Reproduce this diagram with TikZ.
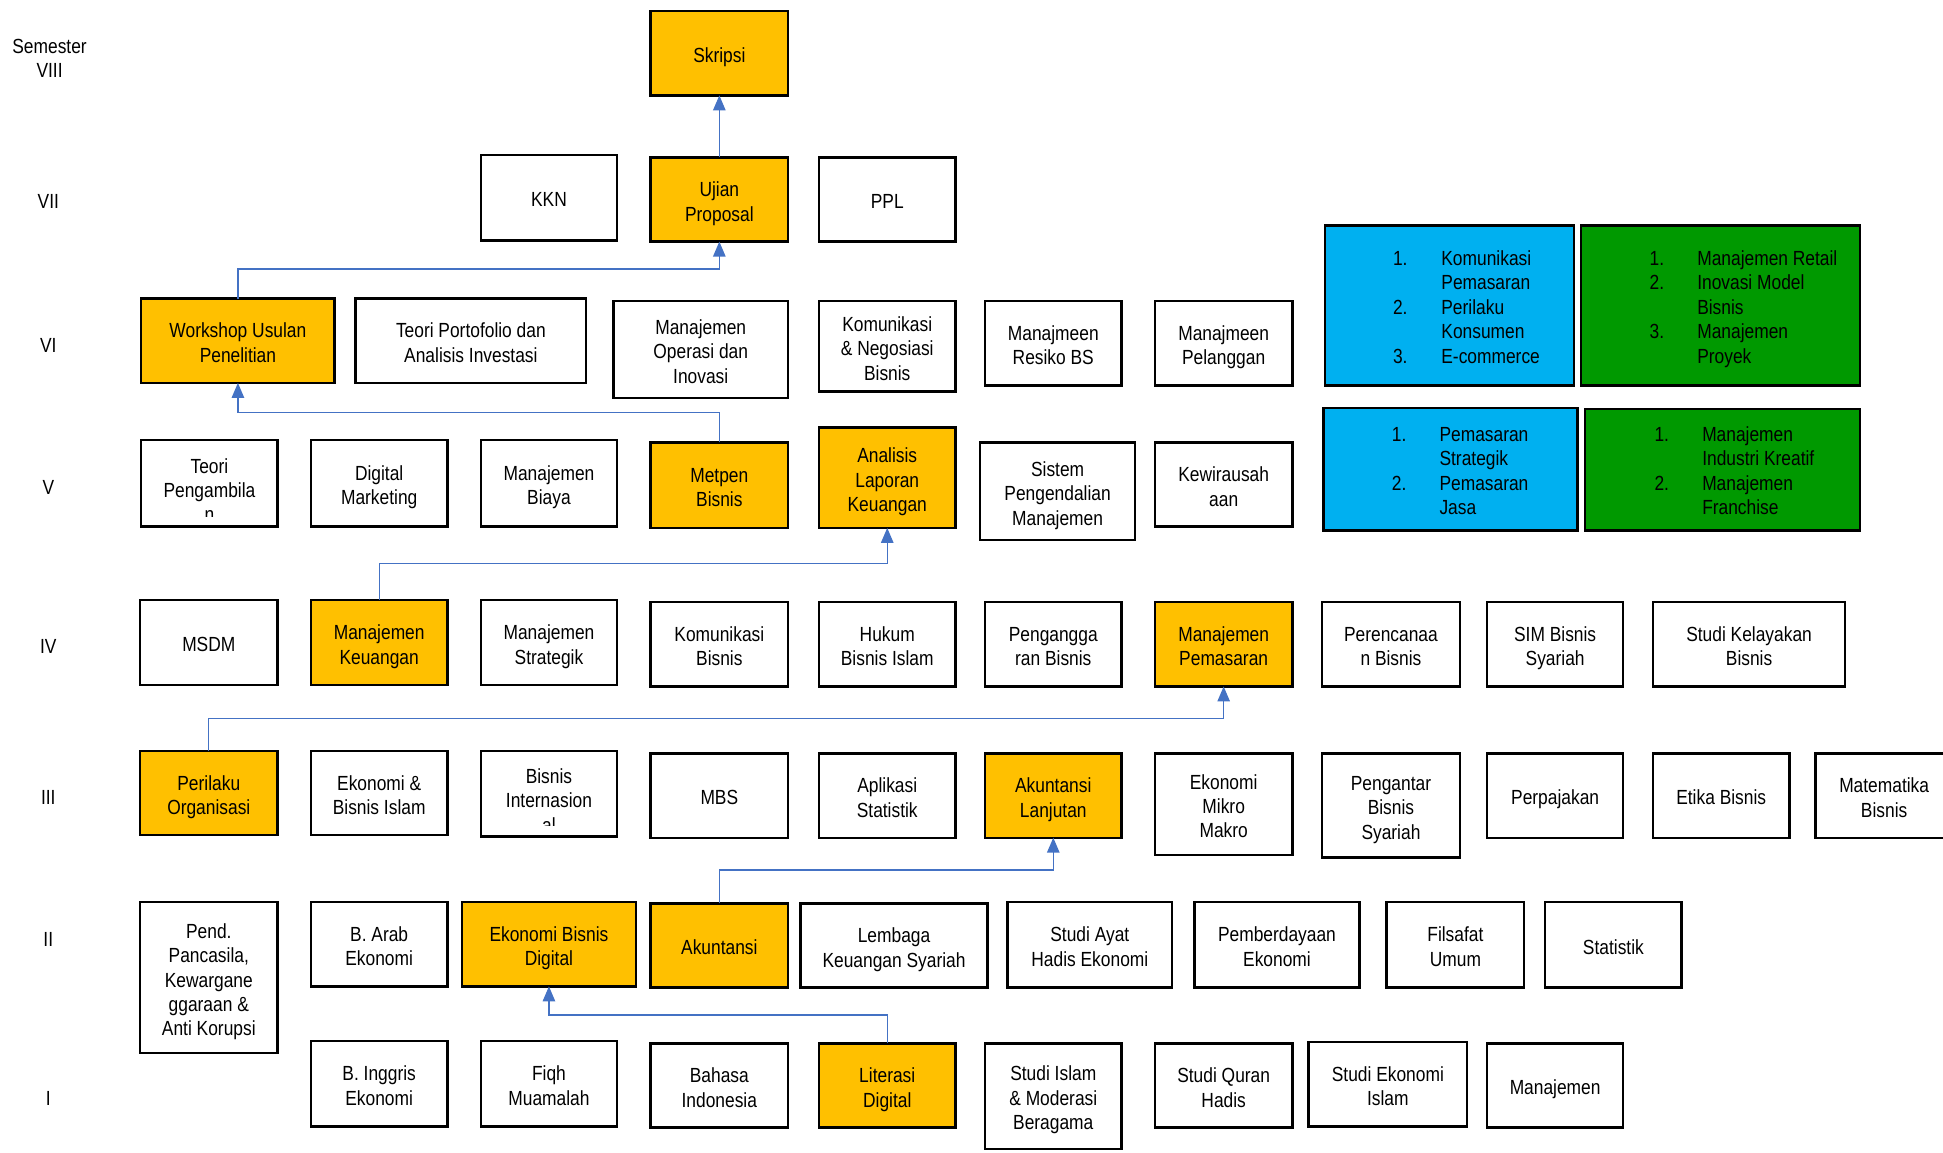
\documentclass[tikz,border=0pt]{standalone}
\usepackage{fontspec}
\setmainfont{Liberation Sans}[FakeStretch=0.85]
\usetikzlibrary{arrows.meta}
\definecolor{gold}{HTML}{FFC000}
\definecolor{sky}{HTML}{00B0F0}
\definecolor{leaf}{HTML}{009900}
\definecolor{connblue}{HTML}{4472C4}
\newcommand\course[7]{%
  \node[#2, minimum width={#5pt-#3pt}, minimum height={#6pt-#4pt}] (#1) at ({(#3+#5)/2},{(#4+#6)/2}) {\rule{0pt}{19pt}#7\rule[-4pt]{0pt}{4pt}};}
\tikzset{
  plainbox/.style={draw=black, line width=1.9pt, fill=white, inner sep=0pt, outer sep=0pt, align=center},
  goldbox/.style={plainbox, fill=gold},
  skybox/.style={plainbox, fill=sky},
  leafbox/.style={plainbox, fill=leaf},
  sem/.style={inner sep=0pt, align=center},
  txt/.style={inner sep=0pt, align=center},
  listtxt/.style={inner sep=0pt, anchor=north west},
  link/.style={draw=connblue, line width=1pt, -{Triangle[length=12pt,width=10pt]}},
}
\begin{document}
\begin{tikzpicture}[x=1pt, y=-1pt, every node/.append style={font=\fontsize{16.5}{19.75}\selectfont}]
\useasboundingbox (0,0) rectangle (1568,930);

% semester labels
\node[sem] (s8) at (40,47) {Semester\\VIII};
\node[sem] (s7) at (39,162.5) {VII};
\node[sem] (s6) at (39,278.5) {VI};
\node[sem] (s5) at (39,393.5) {V};
\node[sem] (s4) at (39,521.5) {IV};
\node[sem] (s3) at (39,643.5) {III};
\node[sem] (s2) at (39,758.5) {II};
\node[sem] (s1) at (39,886.5) {I};

% VIII
\course{skripsi}{goldbox}{525}{9}{636}{77}{Skripsi}
% VII
\course{kkn}{plainbox}{388}{125}{498}{194}{KKN}
\course{ujian}{goldbox}{525}{127}{636}{195}{Ujian\\Proposal}
\course{ppl}{plainbox}{661}{127}{771}{195}{PPL}
% VI
\course{workshop}{goldbox}{114}{241}{270}{309}{Workshop Usulan\\Penelitian}
\course{portofolio}{plainbox}{287}{241}{473}{309}{Teori Portofolio dan\\Analisis Investasi}
\course{operasi}{plainbox}{495}{243}{636}{321}{Manajemen\\Operasi dan\\Inovasi}
\course{negosiasi}{plainbox}{661}{243}{771}{316}{Komunikasi\\\& Negosiasi\\Bisnis}
\course{resiko}{plainbox}{795}{243}{905}{311}{Manajmeen\\Resiko BS}
\course{pelanggan}{plainbox}{932}{243}{1043}{311}{Manajmeen\\Pelanggan}
\course{konsA}{skybox}{1069}{182}{1270}{311}{}
\course{konsB}{leafbox}{1276}{182}{1501}{311}{}
% V
\course{pengambilan}{plainbox}{114}{355}{224}{425}{}
\course{digmark}{plainbox}{251}{355}{361}{425}{Digital\\Marketing}
\course{biaya}{plainbox}{388}{355}{498}{425}{Manajemen\\Biaya}
\course{metpen}{goldbox}{525}{357}{636}{426}{Metpen\\Bisnis}
\course{analisis}{goldbox}{661}{345}{771}{426}{Analisis\\Laporan\\Keuangan}
\course{spm}{plainbox}{791}{357}{916}{436}{Sistem\\Pengendalian\\Manajemen}
\course{kewira}{plainbox}{932}{357}{1043}{425}{Kewirausah\\aan}
\course{konsC}{skybox}{1068}{329}{1273}{428}{}
\course{konsD}{leafbox}{1279}{330}{1501}{428}{}
% IV
\course{msdm}{plainbox}{113}{484}{224}{553}{MSDM}
\course{mkeu}{goldbox}{251}{484}{361}{553}{Manajemen\\Keuangan}
\course{mstrat}{plainbox}{388}{484}{498}{553}{Manajemen\\Strategik}
\course{kombis}{plainbox}{525}{486}{636}{554}{Komunikasi\\Bisnis}
\course{hukum}{plainbox}{661}{486}{771}{554}{Hukum\\Bisnis Islam}
\course{anggaran}{plainbox}{795}{486}{905}{554}{Pengangga\\ran Bisnis}
\course{mpemasaran}{goldbox}{932}{486}{1043}{554}{Manajemen\\Pemasaran}
\course{perencanaan}{plainbox}{1067}{486}{1178}{554}{Perencanaa\\n Bisnis}
\course{sim}{plainbox}{1200}{486}{1310}{554}{SIM Bisnis\\Syariah}
\course{kelayakan}{plainbox}{1334}{486}{1489}{554}{Studi Kelayakan\\Bisnis}
% III
\course{perilaku}{goldbox}{113}{606}{224}{674}{Perilaku\\Organisasi}
\course{ekbisislam}{plainbox}{251}{606}{361}{674}{Ekonomi \&\\Bisnis Islam}
\course{bisint}{plainbox}{388}{606}{498}{675}{}
\course{mbs}{plainbox}{525}{608}{636}{676}{MBS}
\course{aplstat}{plainbox}{661}{608}{771}{676}{Aplikasi\\Statistik}
\course{aklanjut}{goldbox}{795}{608}{905}{676}{Akuntansi\\Lanjutan}
\course{mikro}{plainbox}{932}{608}{1043}{690}{Ekonomi\\Mikro\\Makro}
\course{pengantar}{plainbox}{1067}{608}{1178}{692}{Pengantar\\Bisnis\\Syariah}
\course{pajak}{plainbox}{1200}{608}{1310}{676}{Perpajakan}
\course{etika}{plainbox}{1334}{608}{1444}{676}{Etika Bisnis}
\course{matematika}{plainbox}{1465}{608}{1576}{676}{Matematika\\Bisnis}
% II
\course{pancasila}{plainbox}{113}{728}{224}{850}{Pend.\\Pancasila,\\Kewargane\\ggaraan \&\\Anti Korupsi}
\course{barab}{plainbox}{251}{728}{361}{796}{B. Arab\\Ekonomi}
\course{ekbisdig}{goldbox}{373}{728}{513}{796}{Ekonomi Bisnis\\Digital}
\course{akuntansi}{goldbox}{525}{729}{636}{797}{Akuntansi}
\course{lembaga}{plainbox}{646}{729}{797}{797}{Lembaga\\Keuangan Syariah}
\course{ayat}{plainbox}{813}{728}{946}{797}{Studi Ayat\\Hadis Ekonomi}
\course{pemberdayaan}{plainbox}{964}{728}{1097}{797}{Pemberdayaan\\Ekonomi}
\course{filsafat}{plainbox}{1119}{728}{1230}{797}{Filsafat\\Umum}
\course{statistik}{plainbox}{1247}{728}{1357}{797}{Statistik}
% I
\course{binggris}{plainbox}{251}{840}{361}{909}{B. Inggris\\Ekonomi}
\course{fiqh}{plainbox}{388}{840}{498}{909}{Fiqh\\Muamalah}
\course{bahasa}{plainbox}{525}{842}{636}{910}{Bahasa\\Indonesia}
\course{literasi}{goldbox}{661}{842}{771}{910}{Literasi\\Digital}
\course{studiislam}{plainbox}{795}{842}{905}{927}{Studi Islam\\\& Moderasi\\Beragama}
\course{quran}{plainbox}{932}{842}{1043}{910}{Studi Quran\\Hadis}
\course{ekoislam}{plainbox}{1056}{841}{1184}{909}{Studi Ekonomi\\Islam}
\course{manajemen}{plainbox}{1200}{842}{1310}{910}{Manajemen}

% clipped texts
\begin{scope}
  \clip (pengambilan.north west) rectangle ([yshift=8pt]pengambilan.south east);
  \node[txt] (pengambilan-t) at (169,395.5) {Teori\\Pengambila\\n};
\end{scope}
\begin{scope}
  \clip (bisint.north west) rectangle ([yshift=9pt]bisint.south east);
  \node[txt] (bisint-t) at (443,646) {Bisnis\\Internasion\\al};
\end{scope}

% concentration lists
\node[listtxt] (listA) at (1124,200) {\begin{tabular}{@{}p{39pt}@{}l@{}}1.&Komunikasi\\&Pemasaran\\2.&Perilaku\\&Konsumen\\3.&E-commerce\end{tabular}};
\node[listtxt] (listB) at (1331,200) {\begin{tabular}{@{}p{38.5pt}@{}l@{}}1.&Manajemen Retail\\2.&Inovasi Model\\&Bisnis\\3.&Manajemen\\&Proyek\end{tabular}};
\node[listtxt] (listC) at (1123,342) {\begin{tabular}{@{}p{38.5pt}@{}l@{}}1.&Pemasaran\\&Strategik\\2.&Pemasaran\\&Jasa\end{tabular}};
\node[listtxt] (listD) at (1335,342) {\begin{tabular}{@{}p{38.5pt}@{}l@{}}1.&Manajemen\\&Industri Kreatif\\2.&Manajemen\\&Franchise\end{tabular}};

% connectors
\draw[link] (ujian.north) -- (skripsi.south);
\draw[link] (workshop.north) -- ++(0,-24) -| (ujian.south);
\draw[link] (metpen.north) -- ++(0,-24) -| (workshop.south);
\draw[link] (mkeu.north) -- ++(0,-29) -| (analisis.south);
\draw[link] (perilaku.north) -- ++(0,-26) -| (mpemasaran.south);
\draw[link] (akuntansi.north) -- ++(0,-27) -| (aklanjut.south);
\draw[link] (literasi.north) -- ++(0,-23) -| (ekbisdig.south);
\end{tikzpicture}
\end{document}
